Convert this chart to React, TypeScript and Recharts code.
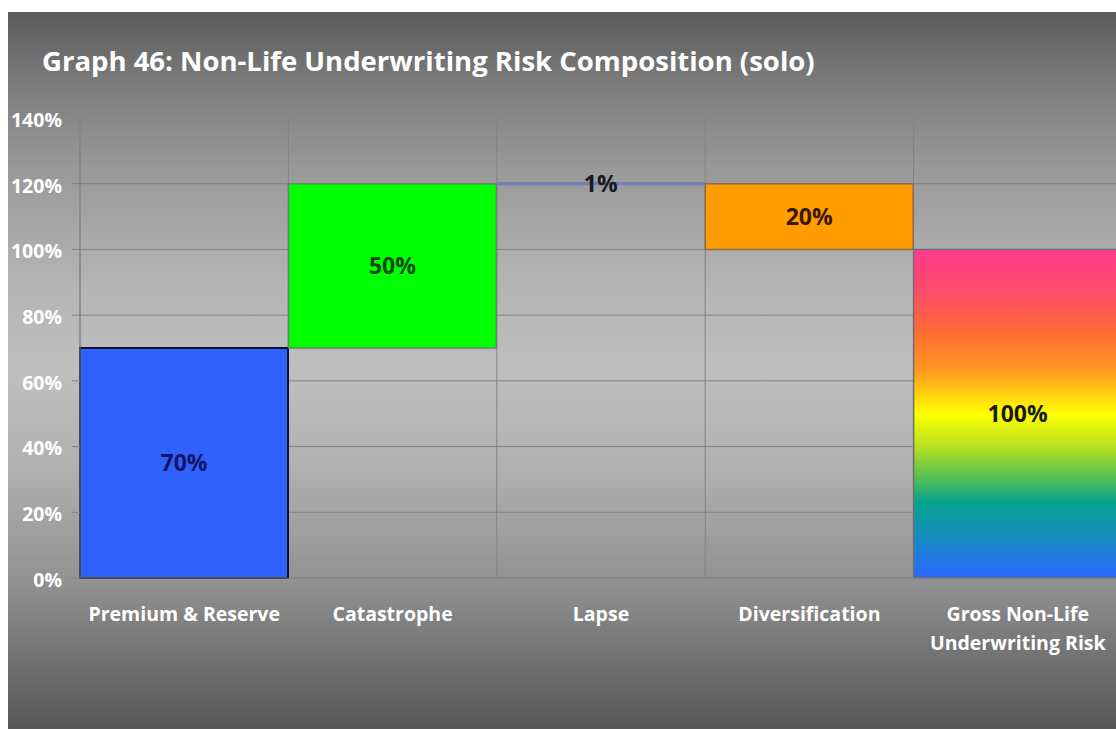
import React from 'react';
import { BarChart, Bar, XAxis, YAxis, CartesianGrid, Cell, LabelList } from 'recharts';

const categories = ['Premium & Reserve', 'Catastrophe', 'Lapse', 'Diversification', 'Gross Non-Life Underwriting Risk'];
const tickLabels = ['Premium & Reserve', 'Catastrophe', 'Lapse', 'Diversification', 'Gross Non-Life\nUnderwriting Risk'];
const baseValues = [0, 70, 119.5, 100, 0];
const barValues = [70, 50, 1, 20, 100];
const barLabels = ['70%', '50%', '1%', '20%', '100%'];
const yTicks = [0, 20, 40, 60, 80, 100, 120, 140];
const gridValues = [0, 20, 40, 60, 80, 100, 120];

const fills = ['#2f62fb', '#00ff00', '#7a7cb4', '#ff9d00', 'url(#grossGrad)'];
const strokes = ['#0d0d35', '#6f7f6f', 'none', '#8a6a55', '#6e6e6e'];
const strokeWidths = [2, 1.5, 0, 1.5, 1.5];
const labelColors = ['#14146a', '#0b4a0b', '#1a1a24', '#3a1800', '#1a1a1a'];

const data = categories.map((c, i) => ({
  name: c,
  base: baseValues[i],
  value: barValues[i],
  label: barLabels[i],
}));

const FONT = '"Open Sans", Lato, sans-serif';

const XTick = (props: any) => {
  const { x, y, index } = props;
  const lines = (tickLabels[index] ?? '').split('\n');
  return (
    <g>
      {lines.map((ln: string, k: number) => (
        <text
          key={k}
          x={x}
          y={y + 35 + k * 29}
          textAnchor="middle"
          fill="#ffffff"
          fontFamily={FONT}
          fontWeight={700}
          fontSize={19.5}
        >
          {ln}
        </text>
      ))}
    </g>
  );
};

const renderLabel = (props: any) => {
  const { x, y, width, height, index, value } = props;
  return (
    <text
      x={Number(x) + Number(width) / 2}
      y={Number(y) + Number(height) / 2}
      dy="0.35em"
      textAnchor="middle"
      fill={labelColors[index]}
      fontFamily={FONT}
      fontWeight={700}
      fontSize={23}
    >
      {value}
    </text>
  );
};

const vGen = (p: any) => {
  const xa = p?.xAxis;
  const off = p?.offset;
  if (xa && typeof xa.scale === 'function') {
    const pts = categories.map((c) => xa.scale(c)).filter((v: any) => typeof v === 'number' && !isNaN(v));
    if (pts.length) return pts;
  }
  return categories.map((_, i) => off.left + (i * off.width) / categories.length);
};

const hGen = (p: any) => {
  const ya = p?.yAxis;
  const off = p?.offset;
  if (ya && typeof ya.scale === 'function') {
    const pts = gridValues.map((v) => ya.scale(v)).filter((v: any) => typeof v === 'number' && !isNaN(v));
    if (pts.length) return pts;
  }
  return gridValues.map((v) => off.top + off.height * (1 - v / 140));
};

export default function App() {
  return (
    <div
      style={{
        position: 'absolute',
        left: 8,
        top: 12,
        width: 1108,
        height: 717,
        overflow: 'hidden',
        background:
          'linear-gradient(180deg, #5b5b5b 0%, #7c7c7c 10%, #999999 22%, #b4b4b4 38%, #bfbfbf 50%, #b0b0b0 64%, #909090 80%, #727272 90%, #575757 100%)',
      }}
    >
      <svg width={0} height={0} style={{ position: 'absolute' }}>
        <defs>
          <linearGradient id="grossGrad" x1="0" y1="0" x2="0" y2="1">
            <stop offset="0%" stopColor="#ff3a8e" />
            <stop offset="12%" stopColor="#ff4a6a" />
            <stop offset="25%" stopColor="#ff6a35" />
            <stop offset="37%" stopColor="#ff9a20" />
            <stop offset="50%" stopColor="#ffff00" />
            <stop offset="60%" stopColor="#b8e020" />
            <stop offset="69%" stopColor="#58c250" />
            <stop offset="77%" stopColor="#05a38e" />
            <stop offset="88%" stopColor="#188bc2" />
            <stop offset="100%" stopColor="#2a66ff" />
          </linearGradient>
        </defs>
      </svg>
      <div
        style={{
          position: 'absolute',
          left: 34,
          top: 35,
          fontFamily: FONT,
          fontWeight: 700,
          fontSize: 27.5,
          lineHeight: 1,
          color: '#ffffff',
          whiteSpace: 'nowrap',
        }}
      >
        Graph 46: Non-Life Underwriting Risk Composition (solo)
      </div>
      <BarChart
        width={1124}
        height={717}
        data={data}
        margin={{ top: 106, right: 10, left: 0, bottom: 91 }}
        barCategoryGap={0}
        barGap={0}
      >
        <CartesianGrid
          stroke="#828282"
          strokeWidth={1}
          horizontalCoordinatesGenerator={hGen}
          verticalCoordinatesGenerator={vGen}
        />
        <XAxis
          dataKey="name"
          height={60}
          axisLine={{ stroke: '#858585' }}
          tickLine={false}
          interval={0}
          tick={<XTick />}
        />
        <YAxis
          width={72}
          domain={[0, 140]}
          ticks={yTicks}
          tickFormatter={(v: number) => `${v}%`}
          axisLine={{ stroke: '#858585' }}
          tickLine={{ stroke: '#858585' }}
          tickSize={8}
          tickMargin={10}
          tick={{ fill: '#ffffff', fontFamily: FONT, fontWeight: 700, fontSize: 19.5, dy: 2 }}
        />
        <Bar dataKey="base" stackId="a" fill="transparent" isAnimationActive={false} />
        <Bar dataKey="value" stackId="a" isAnimationActive={false}>
          {data.map((d, i) => (
            <Cell key={d.name} fill={fills[i]} stroke={strokes[i]} strokeWidth={strokeWidths[i]} />
          ))}
          <LabelList dataKey="label" content={renderLabel} />
        </Bar>
      </BarChart>
    </div>
  );
}
